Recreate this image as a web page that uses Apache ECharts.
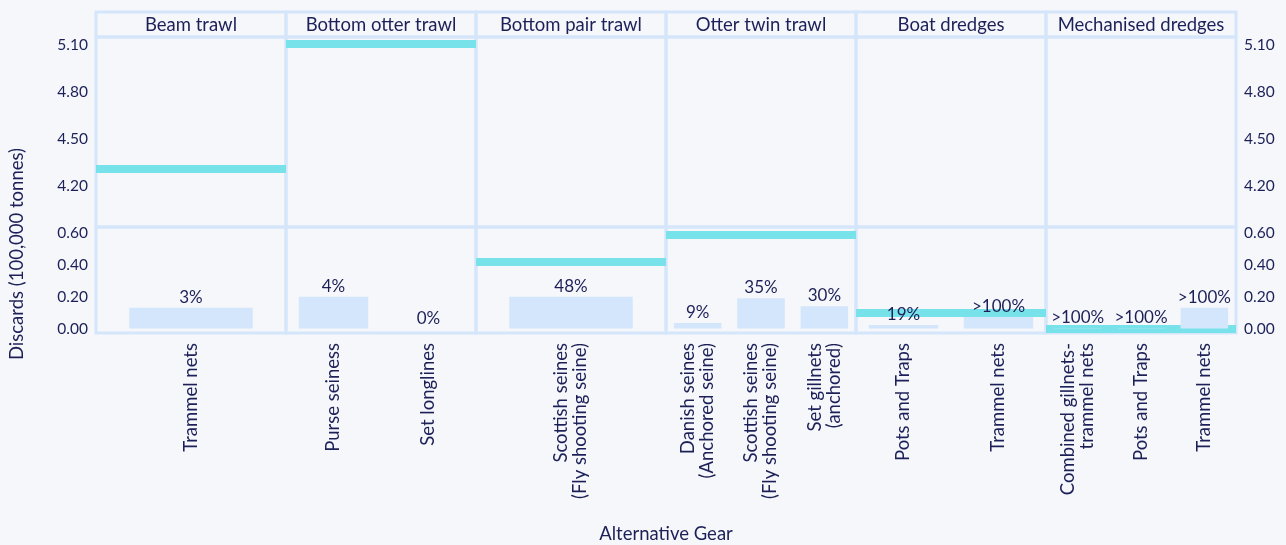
<!DOCTYPE html>
<html>
<head>
<meta charset="utf-8">
<script src="https://cdn.jsdelivr.net/npm/echarts@6/dist/echarts.min.js"></script>
<style>
  html, body { margin: 0; padding: 0; background: #f5f7fa; }
  #chart { width: 1286px; height: 545px; }
</style>
</head>
<body>
<div id="chart"></div>
<script>
// current gear (facets) and its discards, 100,000 tonnes
const gears = ['Beam trawl', 'Bottom otter trawl', 'Bottom pair trawl', 'Otter twin trawl', 'Boat dredges', 'Mechanised dredges'];
const currentDiscards = [4.31, 5.11, 0.42, 0.59, 0.10, 0.00];

// alternative gears per facet
const altGears = [
  ['Trammel nets'],
  ['Purse seiness', 'Set longlines'],
  ['Scottish seines\n(Fly shooting seine)'],
  ['Danish seines\n(Anchored seine)', 'Scottish seines\n(Fly shooting seine)', 'Set gillnets\n(anchored)'],
  ['Pots and Traps', 'Trammel nets'],
  ['Combined gillnets-\ntrammel nets', 'Pots and Traps', 'Trammel nets']
];
const altDiscards = [
  [0.13],
  [0.20, 0],
  [0.20],
  [0.035, 0.19, 0.14],
  [0.022, 0.072],
  [0.002, 0.002, 0.13]
];
const altShare = [
  ['3%'],
  ['4%', '0%'],
  ['48%'],
  ['9%', '35%', '30%'],
  ['19%', '>100%'],
  ['>100%', '>100%', '>100%']
];

const upperTicks = [4.20, 4.50, 4.80, 5.10];
const lowerTicks = [0.00, 0.20, 0.40, 0.60];

const navy = '#1d2058';
const frame = '#d5e6fb';
const barColor = '#d4e6fc';
const cyan = '#78e2ea';
const font = 'Lato';

const panelW = 190;
const barWidths = { 1: '65%', 2: '73%', 3: '75%' };

function valueAxis(i, gridIndex, min, max, ticks) {
  const last = i === gears.length - 1;
  return {
    gridIndex, type: 'value', min, max,
    position: last ? 'right' : 'left',
    axisLine: { show: false }, axisTick: { show: false }, splitLine: { show: false },
    axisLabel: {
      show: i === 0 || last,
      customValues: ticks,
      formatter: v => v.toFixed(2),
      margin: 8, color: navy, fontSize: 15.5, fontFamily: font
    }
  };
}

function currentLine(v) {
  return {
    symbol: 'none', silent: true, z: 5,
    label: { show: false },
    lineStyle: { color: cyan, width: 8, type: 'solid' },
    data: [{ yAxis: v }]
  };
}

const grids = [], xAxes = [], yAxes = [], series = [], titles = [];

gears.forEach((gear, i) => {
  const left = 96 + panelW * i;
  const g = 3 * i;
  const upper = currentDiscards[i] > 1;

  // header strip
  grids.push({ left, top: 12, width: panelW, height: 25, show: true, borderColor: frame, borderWidth: 3 });
  xAxes.push({ gridIndex: g, type: 'category', data: [gear], show: false });
  yAxes.push({ gridIndex: g, type: 'value', show: false });
  titles.push({
    text: gear, left: left + panelW / 2, top: 15.5, textAlign: 'center', padding: 0,
    textStyle: { color: navy, fontSize: 18.5, fontWeight: 'normal', fontFamily: font }
  });

  // upper part of the broken axis
  grids.push({ left, top: 37, width: panelW, height: 190, show: true, borderColor: frame, borderWidth: 3 });
  xAxes.push({ gridIndex: g + 1, type: 'category', data: altGears[i], show: false });
  yAxes.push(valueAxis(i, g + 1, 3.935, 5.153, upperTicks));
  series.push({
    type: 'line', xAxisIndex: g + 1, yAxisIndex: g + 1,
    data: altGears[i].map(() => null), symbol: 'none',
    markLine: upper ? currentLine(currentDiscards[i]) : undefined
  });

  // lower part with the alternative gear bars
  grids.push({ left, top: 227, width: panelW, height: 106, show: true, borderColor: frame, borderWidth: 3 });
  xAxes.push({
    gridIndex: g + 2, type: 'category', data: altGears[i],
    axisLine: { show: false }, axisTick: { show: false },
    axisLabel: { rotate: 90, margin: 10, interval: 0, color: navy, fontSize: 18.5, lineHeight: 19, fontFamily: font }
  });
  yAxes.push(valueAxis(i, g + 2, -0.028, 0.638, lowerTicks));
  series.push({
    type: 'bar', xAxisIndex: g + 2, yAxisIndex: g + 2, z: 6,
    data: altDiscards[i],
    barWidth: barWidths[altGears[i].length],
    itemStyle: { color: barColor },
    label: {
      show: true, position: 'top', distance: 2,
      formatter: p => altShare[i][p.dataIndex],
      color: navy, fontSize: 17, fontFamily: font
    },
    markLine: upper ? undefined : currentLine(currentDiscards[i])
  });
});

titles.push({
  text: 'Alternative Gear', left: 666, top: 525, textAlign: 'center', padding: 0,
  textStyle: { color: navy, fontSize: 18.5, fontWeight: 'normal', fontFamily: font }
});

const chart = echarts.init(document.getElementById('chart'));
chart.setOption({
  animation: false,
  backgroundColor: '#f5f7fa',
  title: titles,
  grid: grids,
  xAxis: xAxes,
  yAxis: yAxes,
  series: series,
  graphic: [{
    type: 'text', x: 17, y: 254, rotation: Math.PI / 2,
    style: {
      text: 'Discards (100,000 tonnes)', fill: navy, font: '18.5px ' + font,
      align: 'center', verticalAlign: 'middle'
    }
  }]
});
</script>
</body>
</html>
